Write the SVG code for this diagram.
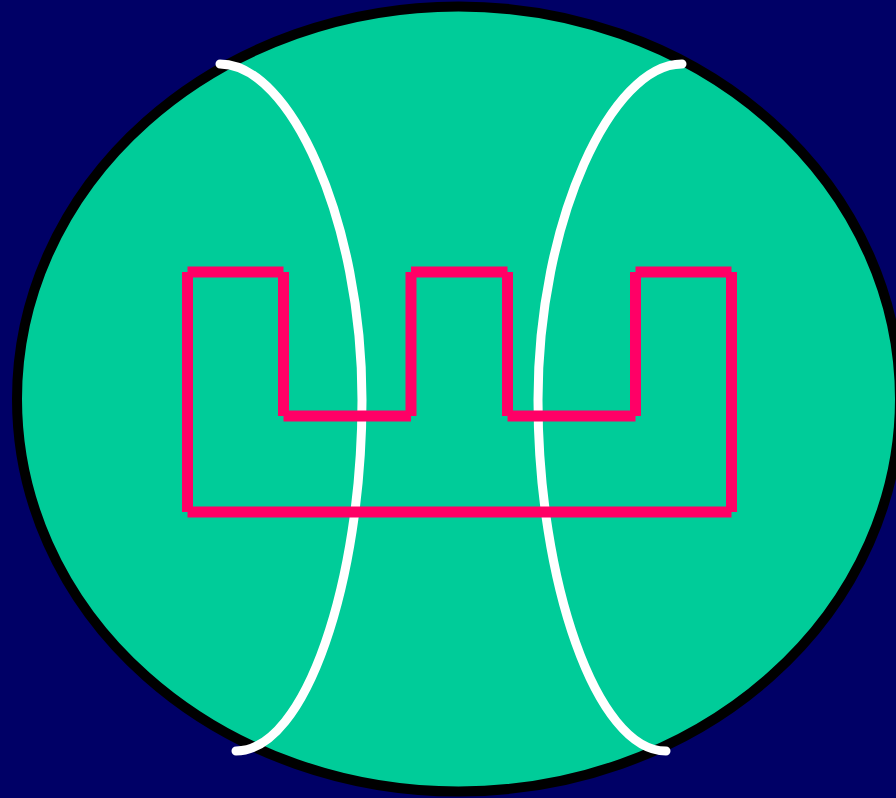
<svg xmlns="http://www.w3.org/2000/svg" width="896" height="798" viewBox="0 0 896 798">
  <style>
    .seam { fill: none; stroke: #ffffff; stroke-width: 9; stroke-linecap: round; }
    .crown line { stroke: #ff0066; stroke-width: 11; stroke-linecap: butt; }
  </style>
  <rect x="0" y="0" width="896" height="798" fill="#000066"/>
  <ellipse cx="458.5" cy="399" rx="441.5" ry="392.5" fill="#00cc99" stroke="#000000" stroke-width="10"/>
  <g id="seams">
    <path class="seam" d="M220,64 C290,64 362,220 362,400 C362,580 306,751 236,751"/>
    <path class="seam" d="M682,64 C612,64 538,220 538,400 C538,580 596,751 666,751"/>
  </g>
  <g id="crown" class="crown">
    <line x1="187.5" y1="272" x2="283.5" y2="272"/>
    <line x1="283.5" y1="272" x2="283.5" y2="416"/>
    <line x1="283.5" y1="416" x2="411" y2="416"/>
    <line x1="411" y1="416" x2="411" y2="272"/>
    <line x1="411" y1="272" x2="507.5" y2="272"/>
    <line x1="507.5" y1="272" x2="507.5" y2="416"/>
    <line x1="507.5" y1="416" x2="635.5" y2="416"/>
    <line x1="635.5" y1="416" x2="635.5" y2="272"/>
    <line x1="635.5" y1="272" x2="731.5" y2="272"/>
    <line x1="731.5" y1="272" x2="731.5" y2="512"/>
    <line x1="731.5" y1="512" x2="187.5" y2="512"/>
    <line x1="187.5" y1="512" x2="187.5" y2="272"/>
  </g>
</svg>
